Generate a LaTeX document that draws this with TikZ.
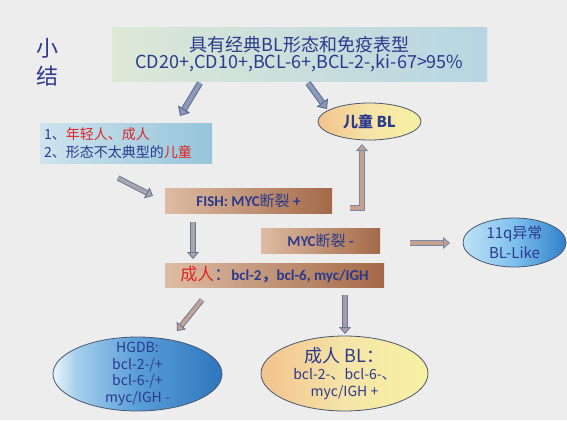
\documentclass[tikz,border=0pt]{standalone}
\usepackage{fontspec}
\setmainfont{Noto Sans CJK SC}
\newfontfamily\calfont{Carlito}
\usetikzlibrary{arrows.meta,shapes.geometric}
\definecolor{bg}{HTML}{EDEDED}
\definecolor{navy}{HTML}{2B3A8C}
\definecolor{redtxt}{HTML}{E02424}
\definecolor{ellline}{HTML}{4A5870}
\definecolor{hA}{HTML}{EAF5FB}
\definecolor{hB}{HTML}{A4CEEC}
\definecolor{hC}{HTML}{5A9ED8}
\definecolor{hD}{HTML}{2E76BE}
\definecolor{qA}{HTML}{BEE2F6}
\definecolor{qB}{HTML}{7EC0EC}
\definecolor{qC}{HTML}{2F80CA}
\definecolor{yA}{HTML}{F2C38C}
\definecolor{yB}{HTML}{F6E4A8}
\definecolor{yC}{HTML}{F6F2A2}
\definecolor{tA}{HTML}{DDE8D6}
\definecolor{tB}{HTML}{B7D5E2}
\definecolor{lA}{HTML}{CDE4EE}
\definecolor{lB}{HTML}{96C4DA}
\definecolor{bA}{HTML}{DDBCA4}
\definecolor{bB}{HTML}{A46A48}
\definecolor{aLineBlue}{HTML}{5A6C94}
\definecolor{aFillBlue}{HTML}{8A9AB8}
\definecolor{aLineGray}{HTML}{6C7490}
\definecolor{aFillGray}{HTML}{A6A6AE}
\definecolor{aFillMauve}{HTML}{A89CAC}
\definecolor{aFillTan}{HTML}{C6A08A}
\definecolor{aFillPink}{HTML}{C4A494}
\definecolor{aLineTan}{HTML}{7888A8}
\pgfdeclarehorizontalshading{hgdbsh}{100bp}{color(0bp)=(hA); color(25bp)=(hA); color(32bp)=(hB); color(50bp)=(hC); color(75bp)=(hD); color(100bp)=(hD)}
\pgfdeclarehorizontalshading{qsh}{100bp}{color(0bp)=(qA); color(25bp)=(qA); color(50bp)=(qB); color(75bp)=(qC); color(100bp)=(qC)}
\pgfdeclarehorizontalshading{ysh}{100bp}{color(0bp)=(yA); color(25bp)=(yA); color(50bp)=(yB); color(75bp)=(yC); color(100bp)=(yC)}
\tikzset{
  boxnode/.style={rectangle, inner sep=0pt, text=navy, align=center},
  brownbox/.style={boxnode, left color=bA, right color=bB},
  ellnode/.style={ellipse, draw=ellline, line width=0.8pt, inner sep=0pt},
  blockarrow/.style 2 args={draw=#1, double=#2, double distance=4.2pt, line width=1pt,
     -{Triangle[length=8pt, width=14pt, fill=#2, color=#1, line width=1pt]}},
  smallarrow/.style 2 args={draw=#1, double=#2, double distance=3.6pt, line width=0.9pt,
     -{Triangle[length=7pt, width=12pt, fill=#2, color=#1, line width=0.9pt]}},
}
\begin{document}
\begin{tikzpicture}[x=1pt,y=-1pt]
\useasboundingbox (0,0) rectangle (567,420);
\fill[bg] (0,0) rectangle (567,420);

% title
\node[text=navy, font=\fontsize{22}{28}\selectfont, align=center, inner sep=0pt] (title) at (47,62) {小\\结};

% top box
\node[boxnode, left color=tA, right color=tB, minimum width=375pt, minimum height=53pt]
  (top) at (299.5,54.5)
  {{\fontsize{18}{24}\selectfont 具有经典BL形态和免疫表型}\\
   {\fontsize{18}{24}\selectfont CD20+,CD10+,BCL-6+,BCL-2-,ki-67>95\%}};

% left box
\node[boxnode, left color=lA, right color=lB, minimum width=172pt, minimum height=40pt,
      text width=164pt, inner xsep=4pt, align=left, font=\fontsize{14}{18}\selectfont]
  (young) at (126,143)
  {1、\textcolor{redtxt}{年轻人、成人}\\2、形态不太典型的\textcolor{redtxt}{儿童}};

% child BL
\node[ellnode, shading=ysh, minimum width=103pt, minimum height=37pt,
      label={[text=navy, font=\fontsize{15}{18}\selectfont\bfseries]center:儿童 BL}]
  (child) at (369.5,121.5) {};

% FISH box
\node[brownbox, minimum width=167pt, minimum height=25pt]
  (fish) at (248.5,200.5) {{\calfont\bfseries\fontsize{15}{18}\selectfont FISH: MYC}{\fontsize{15}{18}\selectfont 断裂 }{\calfont\bfseries\fontsize{15}{18}\selectfont +}};

% MYC- box
\node[brownbox, minimum width=119pt, minimum height=25pt]
  (mycneg) at (320.5,240.5) {{\calfont\bfseries\fontsize{15}{18}\selectfont MYC}{\fontsize{15}{18}\selectfont 断裂 }{\calfont\bfseries\fontsize{15}{18}\selectfont -}};

% adult box
\node[brownbox, minimum width=219pt, minimum height=24pt]
  (adult) at (274.5,275) {{\fontsize{17}{20}\selectfont\textcolor{redtxt}{成人}：}{\calfont\bfseries\fontsize{15}{18}\selectfont bcl-2}{\fontsize{15}{18}\selectfont\bfseries ，}{\calfont\bfseries\fontsize{15}{18}\selectfont bcl-6, myc/IGH}};

% 11q ellipse
\node[ellnode, shading=qsh, minimum width=103pt, minimum height=49pt,
      label={[text=navy, font=\fontsize{15}{20}\selectfont, align=center]center:11q异常\\BL-Like}]
  (q11) at (514.5,242.5) {};

% HGDB ellipse
\node[ellnode, shading=hgdbsh, minimum width=169pt, minimum height=74pt,
      label={[text=navy, font=\fontsize{14}{16.5}\selectfont, align=center]center:HGDB:\\bcl-2-/+\\bcl-6-/+\\myc/IGH -}]
  (hgdb) at (137.5,374) {};

% adult BL ellipse
\node[ellnode, shading=ysh, minimum width=167pt, minimum height=75pt,
      label={[text=navy, font=\fontsize{14}{17}\selectfont, align=center]center:{\fontsize{18}{18}\selectfont 成人 BL：}\\bcl-2-、bcl-6-、\\myc/IGH +}]
  (adultbl) at (344.5,373.5) {};

% arrow end points
\coordinate (a1s) at (200,83);  \coordinate (a1e) at (180,116);
\coordinate (a2s) at (308,83);  \coordinate (a2e) at (327,109);
\coordinate (a3s) at (118,178); \coordinate (a3e) at (153,196);
\coordinate (a4s) at (193,222); \coordinate (a4e) at (193,259);
\coordinate (a5s) at (350,208); \coordinate (a5e) at (362,144);
\coordinate (a6s) at (410,243); \coordinate (a6e) at (450,243);
\coordinate (a7s) at (202,300); \coordinate (a7e) at (177,331);
\coordinate (a8s) at (345,295); \coordinate (a8e) at (345,334);

\draw[blockarrow={aLineBlue}{aFillBlue}] (a1s) -- (a1e);
\draw[blockarrow={aLineBlue}{aFillBlue}] (a2s) -- (a2e);
\draw[smallarrow={aLineGray}{aFillGray}] (a3s) -- (a3e);
\draw[smallarrow={aLineGray}{aFillGray}] (a4s) -- (a4e);
\draw[smallarrow={aLineTan}{aFillTan}] (a5s) -| (a5e);
\draw[smallarrow={aLineTan}{aFillTan}] (a6s) -- (a6e);
\draw[smallarrow={aLineGray}{aFillPink}] (a7s) -- (a7e);
\draw[smallarrow={aLineGray}{aFillMauve}] (a8s) -- (a8e);
\end{tikzpicture}
\end{document}
